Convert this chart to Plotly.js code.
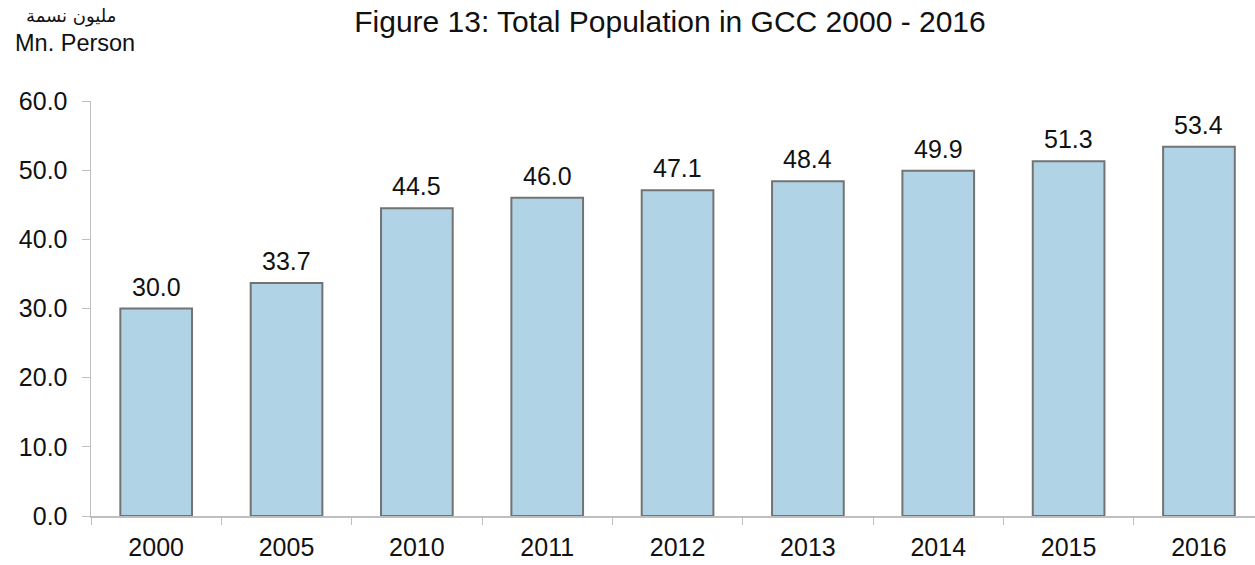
<!DOCTYPE html>
<html><head><meta charset="utf-8">
<script src="https://cdn.plot.ly/plotly-3.0.1.min.js"></script>
<style>html,body{margin:0;padding:0;background:#fff}#c{width:1255px;height:565px}</style>
</head><body><div id="c"></div>
<script>
const years = ['2000','2005','2010','2011','2012','2013','2014','2015','2016'];
const population = [30.0, 33.7, 44.5, 46.0, 47.1, 48.4, 49.9, 51.3, 53.4];
const yTicks = [0,10,20,30,40,50,60];

const FONT = 'Liberation Sans, Arial, sans-serif';
const trace = {
  type:'bar', x: years, y: population,
  width: 0.55,
  marker:{color:'#b0d4e6', line:{color:'#737373', width:2}},
  hoverinfo:'skip'
};
const valueLabels = years.map((yr,i)=>({
  x: i, y: population[i], xref:'x', yref:'y', text: population[i].toFixed(1),
  showarrow:false, xanchor:'center', yanchor:'bottom', yshift:6,
  font:{family:FONT, size:25, color:'#111'}
}));
const layout = {
  width:1255, height:565,
  margin:{l:91, r:0, t:101, b:49},
  paper_bgcolor:'#fff', plot_bgcolor:'#fff',
  showlegend:false,
  font:{family:FONT, color:'#111'},
  title:{text:'Figure 13: Total Population in GCC 2000 - 2016', x:670/1255, xanchor:'center', xref:'container',
    y:1-21/565, yanchor:'middle', yref:'container', font:{size:30, color:'#111'}},
  xaxis:{type:'category', range:[-0.5, 8.43], showline:true, linecolor:'#bfbfbf', linewidth:1.5,
    tickson:'boundaries', ticks:'outside', ticklen:7, tickcolor:'#bfbfbf', showgrid:false,
    tickfont:{size:25, color:'#111'}, ticklabelstandoff:8, fixedrange:true},
  yaxis:{range:[0,60], tickvals:yTicks, ticktext:yTicks.map(v=>v.toFixed(1)),
    showline:true, linecolor:'#bfbfbf', linewidth:1.5, ticks:'outside', ticklen:8, tickcolor:'#bfbfbf',
    showgrid:false, zeroline:false, tickfont:{size:25, color:'#111'}, ticklabelstandoff:9},
  annotations:[
    {text:'مليون نسمة', xref:'paper', yref:'paper', x:-20/1164, y:1+(101-16)/415, xanchor:'center', yanchor:'middle',
      showarrow:false, font:{family:'DejaVu Sans, sans-serif', size:18, color:'#111'}},
    {text:'Mn. Person', xref:'paper', yref:'paper', x:-16/1164, y:1+(101-43)/415, xanchor:'center', yanchor:'middle',
      showarrow:false, font:{size:23.5, color:'#111'}}
  ].concat(valueLabels)
};
Plotly.newPlot('c',[trace],layout,{displayModeBar:false, staticPlot:true});
</script></body></html>
